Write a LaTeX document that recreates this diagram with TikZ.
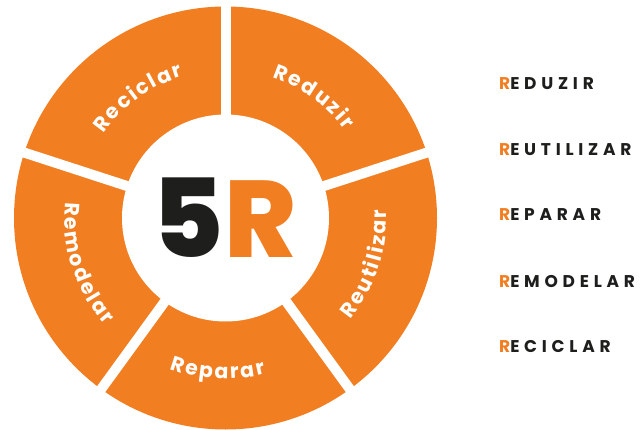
\documentclass[tikz,border=0pt]{standalone}
\usepackage{fontspec}
\setmainfont{Poppins}
\newfontfamily\segfont{Poppins}
\newfontfamily\listfont{Poppins}[LetterSpace=28]
\IfFontExistsTF{Poppins ExtraBold}{\newfontfamily\heavyfont{Poppins ExtraBold}}{\newcommand\heavyfont{\bfseries}}
\usetikzlibrary{decorations.text}
\definecolor{orng}{HTML}{F27E22}
\definecolor{ink}{HTML}{1E1E1C}
\newcommand\segfnt{\segfont\bfseries\fontsize{20.5}{20.5}\selectfont}
\tikzset{
  seglabel/.style={decorate,decoration={text effects along path,text={#1},text align=center,
     text effects/.cd, text along path,
     characters={text=white,font=\segfnt,inner xsep=0pt},
     character widths={font=\segfnt,inner xsep=1.05pt}}},
  listitem/.style={anchor=west,inner sep=0pt,font=\listfont\bfseries\fontsize{17}{17}\selectfont,text=ink}
}
\begin{document}
\begin{tikzpicture}[x=1pt,y=1pt]
\useasboundingbox (0,0) rectangle (642,429);
\coordinate (c) at (225.5,211);
\fill[orng] (c) circle (211.5);
\foreach \a in {90,18,-54,-126,162} \draw[white,line width=10pt] (c) -- ++(\a:220);
\fill[white] (c) circle (103.5);
% segment labels
\path[seglabel=Reciclar] ([shift={(162:148)}]c) arc[start angle=162,end angle=90,radius=148];
\path[seglabel=Reduzir] ([shift={(90:148)}]c) arc[start angle=90,end angle=18,radius=148];
\path[seglabel=Reutilizar] ([shift={(-54:161)}]c) arc[start angle=-54,end angle=18,radius=161];
\path[seglabel=Reparar] ([shift={(-129:161)}]c) arc[start angle=-129,end angle=-57,radius=161];
\path[seglabel=Remodelar] ([shift={(162:161)}]c) arc[start angle=162,end angle=234,radius=161];
% centre
\node[inner sep=0pt] (five) at ([xshift=-1pt]c) {\heavyfont\fontsize{109}{109}\selectfont\textcolor{ink}{5}\textcolor{orng}{R}};
% list
\node[listitem] (l1) at (499,345) {\textcolor{orng}{R}EDUZIR};
\node[listitem] (l2) at (499,279.5) {\textcolor{orng}{R}EUTILIZAR};
\node[listitem] (l3) at (499,214) {\textcolor{orng}{R}EPARAR};
\node[listitem] (l4) at (499,147) {\textcolor{orng}{R}EMODELAR};
\node[listitem] (l5) at (499,82) {\textcolor{orng}{R}ECICLAR};
\end{tikzpicture}
\end{document}
